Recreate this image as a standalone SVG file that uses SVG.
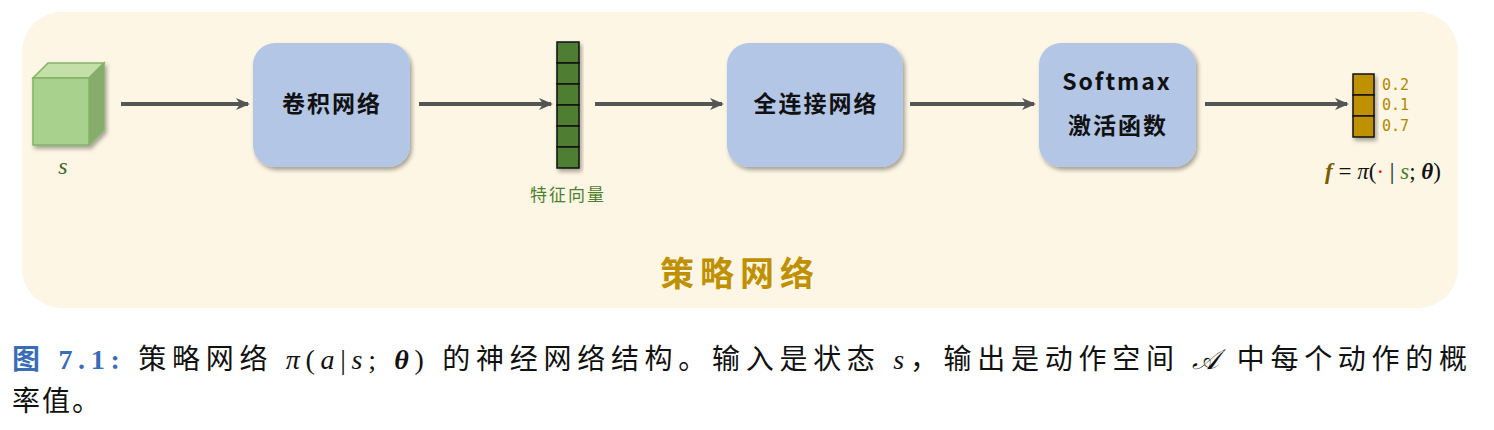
<svg xmlns="http://www.w3.org/2000/svg" width="1494" height="430" viewBox="0 0 1494 430">
<style>
.box{fill:#b3c6e6;}
.bt{font-family:"Noto Sans CJK SC",sans-serif;font-size:23px;font-weight:bold;fill:#111;text-anchor:middle;letter-spacing:2px}
.conn{stroke:#555;stroke-width:4;fill:none;marker-end:url(#ah)}
.cap{font-family:"Liberation Serif","Noto Sans CJK SC",serif;font-size:28px;fill:#111}
.num{font-family:"DejaVu Sans Mono",monospace;font-size:15px;fill:#b08800}
</style>
<defs>
<marker id="ah" markerWidth="14" markerHeight="14" refX="12" refY="7" orient="auto" markerUnits="userSpaceOnUse"><path d="M0,1 L14,7 L0,13 L4,7Z" fill="#555"/></marker>
<filter id="sh" x="-10%" y="-10%" width="130%" height="130%"><feDropShadow dx="2" dy="3" stdDeviation="2" flood-color="#000" flood-opacity="0.35"/></filter>
</defs>
<rect x="22" y="12" width="1436" height="296" rx="40" fill="#fef6e4"/>
<g id="state" filter="url(#sh)">
<path d="M33,78 L48,63 L104,63 L89,78Z" fill="#c2e0a8" stroke="#82b366" stroke-width="1.5"/>
<path d="M89,78 L104,63 L104,130 L89,145Z" fill="#86ad6c" stroke="#82b366" stroke-width="1.5"/>
<rect x="33" y="78" width="56" height="67" fill="#a9d18e" stroke="#82b366" stroke-width="1.5"/>
</g>
<text x="63" y="174" font-family="Liberation Serif,serif" font-style="italic" font-size="24" fill="#3f6b2a" text-anchor="middle">s</text>
<g id="cnn"><rect class="box" x="253" y="43" width="157" height="124" rx="22" filter="url(#sh)"/><text class="bt" x="332" y="112">卷积网络</text></g>
<g id="feat" filter="url(#sh)" fill="#4e7e30" stroke="#111" stroke-width="1.5">
<rect x="557" y="42" width="22" height="21"/><rect x="557" y="63" width="22" height="21"/><rect x="557" y="84" width="22" height="21"/><rect x="557" y="105" width="22" height="21"/><rect x="557" y="126" width="22" height="21"/><rect x="557" y="147" width="22" height="21"/>
</g>
<text x="568" y="201" font-family="Noto Sans CJK SC,sans-serif" font-size="17" fill="#4e7e30" text-anchor="middle" letter-spacing="2">特征向量</text>
<g id="fc"><rect class="box" x="727" y="43" width="176" height="124" rx="22" filter="url(#sh)"/><text class="bt" x="816" y="112">全连接网络</text></g>
<g id="softmax"><rect class="box" x="1039" y="43" width="157" height="124" rx="22" filter="url(#sh)"/><text class="bt" x="1117" y="90" font-family="Lato,sans-serif" font-weight="normal" letter-spacing="1">Softmax</text><text class="bt" x="1118" y="134">激活函数</text></g>
<g id="out" filter="url(#sh)" fill="#bf9000" stroke="#111" stroke-width="1.5">
<rect x="1353" y="74" width="21" height="21"/><rect x="1353" y="95" width="21" height="21"/><rect x="1353" y="116" width="21" height="21"/>
</g>
<text class="num" x="1382" y="90">0.2</text><text class="num" x="1382" y="110">0.1</text><text class="num" x="1382" y="131">0.7</text>
<text x="1383" y="179" font-family="Liberation Serif,serif" font-size="23" text-anchor="middle" fill="#111"><tspan font-weight="bold" font-style="italic" fill="#7a5c00">f</tspan> = <tspan font-style="italic">π</tspan>(<tspan fill="#e00">·</tspan> | <tspan font-style="italic" fill="#4e7e30">s</tspan>; <tspan font-weight="bold" font-style="italic">θ</tspan>)</text>
<g id="connectors">
<line class="conn" x1="121" y1="104" x2="248" y2="104"/>
<line class="conn" x1="419" y1="104" x2="551" y2="104"/>
<line class="conn" x1="595" y1="104" x2="722" y2="104"/>
<line class="conn" x1="910" y1="104" x2="1034" y2="104"/>
<line class="conn" x1="1205" y1="104" x2="1347" y2="104"/>
</g>
<text x="740" y="286" font-family="Noto Sans CJK SC,sans-serif" font-size="34" font-weight="bold" fill="#bf9000" text-anchor="middle" letter-spacing="6">策略网络</text>
<text class="cap" x="12" y="369" textLength="1455" lengthAdjust="spacing"><tspan fill="#3a6db5" font-weight="bold">图 7.1:</tspan> 策略网络 <tspan font-style="italic">π</tspan>(<tspan font-style="italic">a</tspan>|<tspan font-style="italic">s</tspan>; <tspan font-weight="bold" font-style="italic">θ</tspan>) 的神经网络结构。输入是状态 <tspan font-style="italic">s</tspan>，输出是动作空间 <tspan font-style="italic">𝒜</tspan> 中每个动作的概</text>
<text class="cap" x="12" y="411" letter-spacing="2">率值。</text>
</svg>
